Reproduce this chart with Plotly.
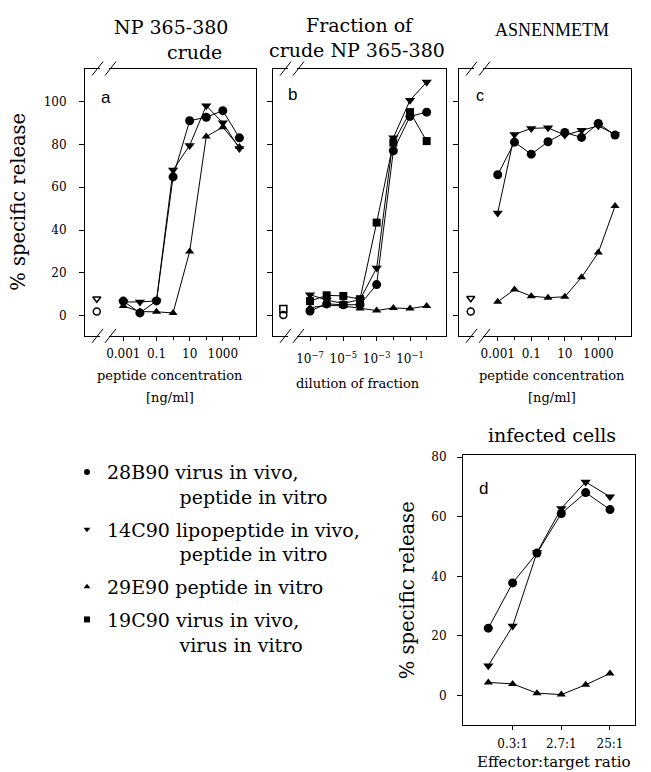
import plotly.graph_objects as go

# ---------------- data ----------------
# panel a: NP 365-380 crude, peptide concentration [ng/ml]
a_conc = [0.001, 0.01, 0.1, 1, 10, 100, 1000, 10000]
a_28B90 = [6.9, 1.4, 7.0, 64.8, 91.0, 92.6, 95.7, 83.0]
a_14C90 = [6.5, 6.5, 7.0, 68.0, 79.5, 98.0, 90.0, 78.0]
a_29E90 = [4.6, 2.0, 1.9, 1.4, 30.0, 83.6, 88.0, 78.7]
a_ctrl_x = [10 ** -4.6]
a_ctrl_14C90 = [8.0]
a_ctrl_28B90 = [2.0]

# panel b: fraction of crude NP 365-380, dilution of fraction
b_dil = [1e-7, 1e-6, 1e-5, 1e-4, 1e-3, 1e-2, 1e-1, 1e0]
b_28B90 = [2.3, 5.6, 5.2, 5.2, 14.6, 77.0, 93.0, 95.0]
b_14C90 = [9.9, 7.4, 5.8, 7.6, 22.3, 83.0, 100.5, 109.0]
b_29E90 = [3.8, 5.0, 4.6, 3.5, 2.5, 3.7, 3.4, 4.6]
b_19C90 = [6.9, 9.6, 9.3, 7.8, 43.5, 80.8, 95.0, 81.5]
b_ctrl_x = [10 ** -8.6]
b_ctrl_19C90 = [3.2]
b_ctrl_28B90 = [0.4]

# panel c: ASNENMETM, peptide concentration [ng/ml]
c_conc = [0.001, 0.01, 0.1, 1, 10, 100, 1000, 10000]
c_28B90 = [65.8, 81.0, 75.4, 81.2, 85.5, 83.2, 89.7, 84.3]
c_14C90 = [48.0, 84.6, 87.4, 87.7, 84.3, 86.6, 88.6, 84.6]
c_29E90 = [6.6, 12.3, 9.2, 8.5, 8.9, 18.0, 29.5, 51.2]
c_ctrl_x = [10 ** -4.61]
c_ctrl_14C90 = [8.2]
c_ctrl_28B90 = [2.0]

# panel d: infected cells, effector:target ratio
d_ratio = [0.1, 0.3, 0.9, 2.7, 8.1, 24.3]
d_28B90 = [22.6, 37.8, 47.8, 61.1, 68.1, 62.4]
d_14C90 = [10.0, 23.3, 48.0, 62.8, 71.7, 66.7]
d_29E90 = [4.4, 3.9, 0.8, 0.3, 3.6, 7.4]

y_ticks_abc = [0, 20, 40, 60, 80, 100]
y_ticks_d = [0, 20, 40, 60, 80]
conc_tickvals = [0.001, 0.1, 10, 1000]
conc_ticktext = ["0.001", "0.1", "10", "1000"]
conc_minorvals = [0.01, 1, 100, 10000]
dil_tickvals = [1e-7, 1e-5, 1e-3, 1e-1]
dil_ticktext = ["10<sup>\u22127</sup>", "10<sup>\u22125</sup>",
                "10<sup>\u22123</sup>", "10<sup>\u22121</sup>"]
dil_minorvals = [1e-6, 1e-4, 1e-2, 1e0]
ratio_tickvals = [0.3, 2.7, 24.3]
ratio_ticktext = ["0.3:1", "2.7:1", "25:1"]

legend_names = [
    "28B90 virus in vivo,<br>" + "\u00a0" * 12 + "peptide in vitro",
    "14C90 lipopeptide in vivo,<br>" + "\u00a0" * 12 + "peptide in vitro",
    "29E90 peptide in vitro",
    "19C90 virus in vivo,<br>" + "\u00a0" * 12 + "virus in vitro",
]

# ---------------- layout helpers ----------------
W, H = 651, 772


def fx(x):
    return x / W


def fy(y):
    return 1 - y / H


DOM = {
    "a": (85, 256, 64, 333),
    "b": (273, 446, 64, 333),
    "c": (459, 631, 64, 333),
    "d": (463, 635, 453, 725),
}

SERIF = "DejaVu Serif"
BLACK = "black"

fig = go.Figure()

sym = {"28B90": "circle", "14C90": "triangle-down", "29E90": "triangle-up", "19C90": "square"}
msize = {"28B90": 9, "14C90": 9, "29E90": 8, "19C90": 8}


def add_series(x, y, key, xa, ya):
    fig.add_trace(go.Scatter(
        x=x, y=y, mode="lines+markers", xaxis=xa, yaxis=ya,
        line=dict(color=BLACK, width=1),
        marker=dict(symbol=sym[key], size=msize[key], color=BLACK),
        showlegend=False, name=key, cliponaxis=False))


def add_ctrl(x, y, key, xa, ya):
    fig.add_trace(go.Scatter(
        x=x, y=y, mode="markers", xaxis=xa, yaxis=ya,
        marker=dict(symbol=sym[key] + "-open", size=7, color=BLACK,
                    line=dict(width=1.5, color=BLACK)),
        showlegend=False, name=key + " control"))


# panel a
add_series(a_conc, a_28B90, "28B90", "x", "y")
add_series(a_conc, a_14C90, "14C90", "x", "y")
add_series(a_conc, a_29E90, "29E90", "x", "y")
add_ctrl(a_ctrl_x, a_ctrl_14C90, "14C90", "x", "y")
add_ctrl(a_ctrl_x, a_ctrl_28B90, "28B90", "x", "y")
# panel b
add_series(b_dil, b_28B90, "28B90", "x2", "y2")
add_series(b_dil, b_14C90, "14C90", "x2", "y2")
add_series(b_dil, b_29E90, "29E90", "x2", "y2")
add_series(b_dil, b_19C90, "19C90", "x2", "y2")
add_ctrl(b_ctrl_x, b_ctrl_19C90, "19C90", "x2", "y2")
add_ctrl(b_ctrl_x, b_ctrl_28B90, "28B90", "x2", "y2")
# panel c
add_series(c_conc, c_28B90, "28B90", "x3", "y3")
add_series(c_conc, c_14C90, "14C90", "x3", "y3")
add_series(c_conc, c_29E90, "29E90", "x3", "y3")
add_ctrl(c_ctrl_x, c_ctrl_14C90, "14C90", "x3", "y3")
add_ctrl(c_ctrl_x, c_ctrl_28B90, "28B90", "x3", "y3")
# panel d
add_series(d_ratio, d_28B90, "28B90", "x4", "y4")
add_series(d_ratio, d_14C90, "14C90", "x4", "y4")
add_series(d_ratio, d_29E90, "29E90", "x4", "y4")

# legend-only entries
for key, name in zip(["28B90", "14C90", "29E90", "19C90"], legend_names):
    fig.add_trace(go.Scatter(
        x=[None], y=[None], mode="markers", xaxis="x4", yaxis="y4",
        marker=dict(symbol=sym[key], size=6, color=BLACK),
        name=name, showlegend=True, legendgroup=key))

axis_common = dict(showline=True, mirror=True, linecolor=BLACK, linewidth=1,
                   ticks="outside", tickcolor=BLACK, showgrid=False, zeroline=False,
                   tickfont=dict(family=SERIF, size=12, color=BLACK))


def xdom(k):
    return [fx(DOM[k][0]), fx(DOM[k][1])]


def ydom(k):
    return [fy(DOM[k][3]), fy(DOM[k][2])]


def minor(vals):
    return dict(tickmode="array", tickvals=vals, ticks="outside", ticklen=3,
                tickcolor=BLACK, showgrid=False)


fig.update_layout(
    width=W, height=H, margin=dict(l=0, r=0, t=0, b=0),
    paper_bgcolor="white", plot_bgcolor="white",
    xaxis=dict(axis_common, type="log", domain=xdom("a"), range=[-5.31, 5.0], anchor="y",
               tickvals=conc_tickvals, ticktext=conc_ticktext, ticklen=4, ticklabelstandoff=3,
               minor=minor(conc_minorvals)),
    yaxis=dict(axis_common, domain=ydom("a"), range=[-9.3, 115.3], anchor="x",
               tickvals=y_ticks_abc, ticklen=5, ticklabelstandoff=10),
    xaxis2=dict(axis_common, type="log", domain=xdom("b"), range=[-9.22, 1.16], anchor="y2",
                tickvals=dil_tickvals, ticktext=dil_ticktext, ticklen=4, ticklabelstandoff=8,
                minor=minor(dil_minorvals)),
    yaxis2=dict(axis_common, domain=ydom("b"), range=[-9.3, 115.3], anchor="x2",
                tickvals=y_ticks_abc, ticklen=5, showticklabels=False),
    xaxis3=dict(axis_common, type="log", domain=xdom("c"), range=[-5.31, 4.95], anchor="y3",
                tickvals=conc_tickvals, ticktext=conc_ticktext, ticklen=4, ticklabelstandoff=3,
                minor=minor(conc_minorvals)),
    yaxis3=dict(axis_common, domain=ydom("c"), range=[-9.3, 115.3], anchor="x3",
                tickvals=y_ticks_abc, ticklen=5, showticklabels=False),
    xaxis4=dict(axis_common, type="log", domain=xdom("d"), range=[-1.496, 1.876], anchor="y4",
                tickvals=ratio_tickvals, ticktext=ratio_ticktext, ticklen=4, ticklabelstandoff=3),
    yaxis4=dict(axis_common, domain=ydom("d"), range=[-10, 80.7], anchor="x4",
                tickvals=y_ticks_d, ticklen=5, ticklabelstandoff=8),
    legend=dict(x=fx(67), y=fy(451), xanchor="left", yanchor="top",
                font=dict(family=SERIF, size=19, color=BLACK),
                bgcolor="rgba(0,0,0,0)", borderwidth=0, valign="top",
                itemsizing="trace", tracegroupgap=5, traceorder="grouped"),
    showlegend=True,
)

# ---------------- text ----------------
ann = []


def text(x, y, s, size, family=SERIF, angle=0, xanchor="center"):
    ann.append(dict(x=fx(x), y=fy(y), xref="paper", yref="paper", text=s,
                    showarrow=False, xanchor=xanchor, yanchor="middle", textangle=angle,
                    font=dict(family=family, size=size, color=BLACK)))


# panel titles
text(171, 22, "NP 365-380", 19)
text(194, 47, "crude", 19)
text(360, 20, "Fraction of", 19)
text(357, 45, "crude NP 365-380", 19)
text(552, 25, "ASNENMETM", 18, family="Liberation Serif")
text(552, 433, "infected cells", 19)
# panel letters
text(106, 93, "a", 17, family="Liberation Sans")
text(292, 90, "b", 17, family="Liberation Sans")
text(480, 91, "c", 16, family="Liberation Sans")
text(483, 487, "d", 17, family="Liberation Sans")
# axis titles
text(19, 198, "% specific release", 19.5, angle=-90)
text(407, 589, "% specific release", 19.5, angle=-90)
text(170, 373, "peptide concentration", 13)
text(170, 395, "[ng/ml]", 13)
text(358, 381, "dilution of fraction", 13)
text(552, 373, "peptide concentration", 13)
text(552, 395, "[ng/ml]", 13)
text(554, 762, "Effector:target ratio", 15)

fig.update_layout(annotations=ann)

# ---------------- axis break marks ----------------
shapes = []
for k in ["a", "b", "c"]:
    xl, xr, yt, yb = DOM[k]
    for yy in (yt, yb):
        shapes.append(dict(type="line", xref="paper", yref="paper",
                           x0=fx(xl + 15), x1=fx(xl + 24), y0=fy(yy), y1=fy(yy),
                           line=dict(color="white", width=3)))
        for off in (7, 20):
            shapes.append(dict(type="line", xref="paper", yref="paper",
                               x0=fx(xl + off), x1=fx(xl + off + 11),
                               y0=fy(yy + 7), y1=fy(yy - 7),
                               line=dict(color=BLACK, width=1)))
fig.update_layout(shapes=shapes)

fig.write_html("out.html", config={"displayModeBar": False},
               post_script="document.body.style.margin='0';")
